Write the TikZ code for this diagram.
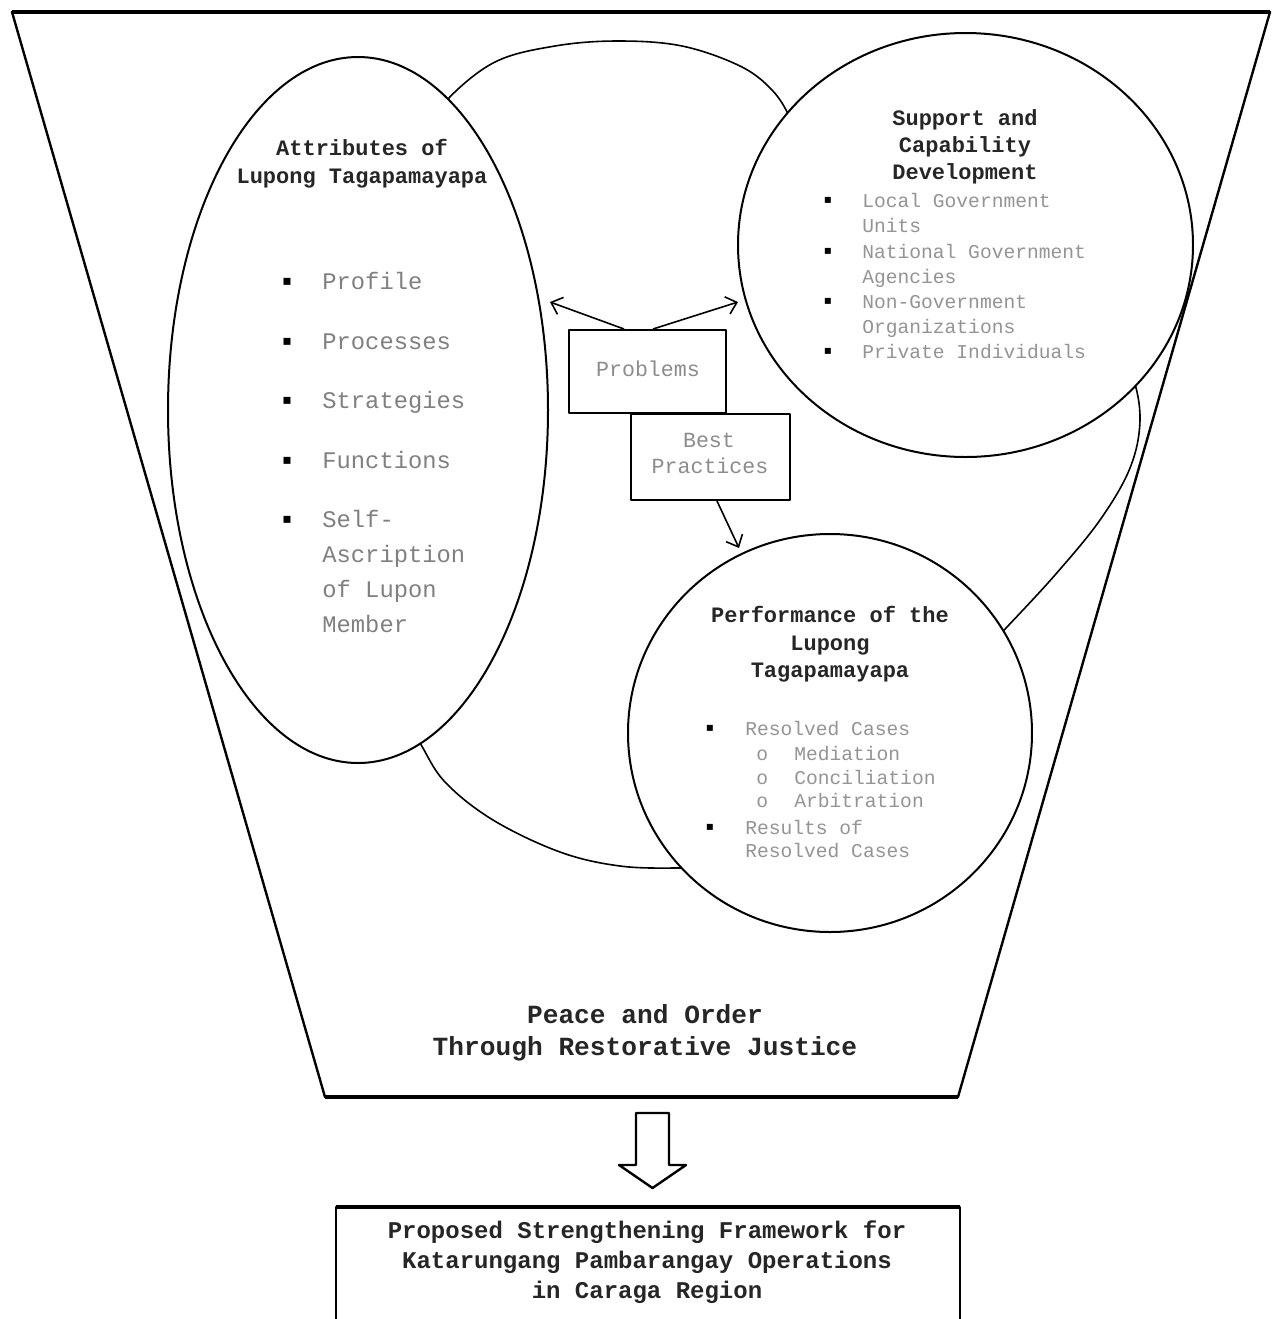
\documentclass[tikz,border=0pt]{standalone}
\usepackage{fontspec}
\newfontfamily\cour{Liberation Mono}
\newfontfamily\symf{DejaVu Sans}
\usetikzlibrary{arrows.meta,shapes.geometric,calc}
\tikzset{
 txt/.style={inner sep=0pt, yshift=-1.5pt},
 ttl/.style={txt, font=\cour\bfseries\fontsize{11}{14}\selectfont, text=black!85, anchor=mid},
 big/.style={txt, font=\cour\bfseries\fontsize{13.1}{16}\selectfont, text=black!85, anchor=mid},
 bot/.style={txt, font=\cour\bfseries\fontsize{12}{15}\selectfont, text=black!85, anchor=mid},
 itL/.style={txt, font=\cour\fontsize{11.9}{14}\selectfont, text=black!50, anchor=mid west},
 itS/.style={txt, font=\cour\fontsize{9.8}{12}\selectfont, text=black!42, anchor=mid west},
 boxt/.style={txt, font=\cour\fontsize{10.8}{13}\selectfont, text=black!45, anchor=mid},
 bulL/.style={font=\symf\fontsize{7}{8}\selectfont, inner sep=0pt},
 bulS/.style={font=\symf\fontsize{6}{7}\selectfont, inner sep=0pt},
 ring/.style={draw, ellipse, line width=1pt, fill=white, inner sep=0pt},
 blob/.style={line width=0.8pt},
 boxn/.style={draw, line width=1pt, fill=white, inner sep=0pt},
 arr/.style={line width=0.8pt, -{Straight Barb[length=5pt,width=9pt]}},
}
\begin{document}
\begin{tikzpicture}[x=0.5pt,y=-0.5pt, line join=round]
\clip (0,0) rectangle (1275,1319);
\fill[white] (0,0) rectangle (1275,1319);

% funnel
\coordinate (tl) at (12,12);
\coordinate (tr) at (1270,12);
\coordinate (br) at (958,1097);
\coordinate (bl) at (325,1097);
\draw[line width=1.2pt] (tl) -- (tr) -- (br) -- (bl) -- cycle;
\draw[line width=2pt] (tl) -- (tr);
\draw[line width=1.8pt] (bl) -- (br);

% background blob arcs
\draw[blob] plot[smooth, tension=0.6] coordinates {(432,130) (447,100) (495,62) (555,46) (618,41) (682,46) (740,66) (772,90) (790,118) (800,150)};
\draw[blob] plot[smooth, tension=0.6] coordinates {(1110,340) (1132,375) (1140,420) (1130,468) (1100,520) (1055,575) (1007,627) (985,650)};
\draw[blob] plot[smooth, tension=0.6] coordinates {(400,710) (420,743) (445,782) (493,820) (560,852) (620,866) (679,868) (710,866)};

% rings
\node[ring, minimum width=190pt, minimum height=353pt] (att) at (358,410) {};
\node[ring, minimum width=227.5pt, minimum height=212pt] (sup) at (965.5,245) {};
\node[ring, minimum width=202pt, minimum height=199pt] (perf) at (830,733) {};

% attributes text
\node[ttl] (a1) at (362,148) {Attributes of};
\node[ttl] (a2) at (362,176) {Lupong Tagapamayapa};
\foreach \n/\y/\t in {1/282/Profile, 2/342/Processes, 3/401/Strategies, 4/461/Functions, 5/520/Self-} {
  \node[bulL] (ab\n) at (287,\y) {▪};
  \node[itL] (ai\n) at (322,\y) {\t};
}
\node[itL] (ai6) at (322,555) {Ascription};
\node[itL] (ai7) at (322,590) {of Lupon};
\node[itL] (ai8) at (322,625) {Member};

% support text
\node[ttl] (s1) at (965,118) {Support and};
\node[ttl] (s2) at (965,145) {Capability};
\node[ttl] (s3) at (965,172) {Development};
\foreach \n/\y in {1/200, 2/251, 3/301, 4/351} {
  \node[bulS] (sb\n) at (828,\y) {▪};
}
\node[itS] (si1) at (862,200) {Local Government};
\node[itS] (si2) at (862,225) {Units};
\node[itS] (si3) at (862,251) {National Government};
\node[itS] (si4) at (862,276) {Agencies};
\node[itS] (si5) at (862,301) {Non-Government};
\node[itS] (si6) at (862,326) {Organizations};
\node[itS] (si7) at (862,351) {Private Individuals};

% performance text
\node[ttl] (p1) at (830,615) {Performance of the};
\node[ttl] (p2) at (830,643) {Lupong};
\node[ttl] (p3) at (830,670) {Tagapamayapa};
\node[bulS] (pb1) at (710,728) {▪};
\node[bulS] (pb2) at (710,827) {▪};
\node[itS] (pi1) at (745,728) {Resolved Cases};
\node[itS] (po1) at (756,753) {o};
\node[itS] (po2) at (756,777) {o};
\node[itS] (po3) at (756,800) {o};
\node[itS] (pi2) at (794,753) {Mediation};
\node[itS] (pi3) at (794,777) {Conciliation};
\node[itS] (pi4) at (794,800) {Arbitration};
\node[itS] (pi5) at (745,827) {Results of};
\node[itS] (pi6) at (745,850) {Resolved Cases};

% boxes
\node[boxn, minimum width=78.5pt, minimum height=41.5pt] (prob) at (647.5,371.5) {};
\node[boxt] (probt) at (648,369) {Problems};
\node[boxn, minimum width=79.5pt, minimum height=43pt] (best) at (710,456.5) {};
\node[boxt] (best1) at (709,440) {Best};
\node[boxt] (best2) at (710,466) {Practices};

% arrows
\coordinate (ps1) at (624,329);
\coordinate (ps2) at (653,329);
\coordinate (pe1) at (550,302);
\coordinate (pe2) at (738,302);
\coordinate (bs) at (717,501);
\coordinate (be) at (739,548);
\draw[arr] (ps1) -- (pe1);
\draw[arr] (ps2) -- (pe2);
\draw[arr] (bs) -- (be);

% peace text
\node[big] (pc1) at (645,1016) {Peace and Order};
\node[big] (pc2) at (645,1048) {Through Restorative Justice};

% hollow arrow
\draw[line width=1.2pt, fill=white] (636,1113) -- (669,1113) -- (669,1165) -- (686,1165) -- (652.5,1188) -- (619,1165) -- (636,1165) -- cycle;

% bottom box
\draw[line width=1.2pt] (336,1330) -- (336,1207) -- (960,1207) -- (960,1330);
\draw[line width=2pt] (336,1207) -- (960,1207);
\node[bot] (f1) at (647,1231) {Proposed Strengthening Framework for};
\node[bot] (f2) at (647,1261) {Katarungang Pambarangay Operations};
\node[bot] (f3) at (647,1291) {in Caraga Region};
\end{tikzpicture}
\end{document}
